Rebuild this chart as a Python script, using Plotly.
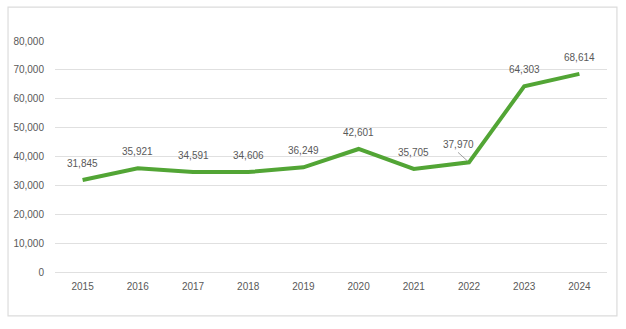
import plotly.graph_objects as go

years = ["2015", "2016", "2017", "2018", "2019", "2020", "2021", "2022", "2023", "2024"]
values = [31845, 35921, 34591, 34606, 36249, 42601, 35705, 37970, 64303, 68614]
labels = ["31,845", "35,921", "34,591", "34,606", "36,249", "42,601", "35,705", "37,970", "64,303", "68,614"]

FONT = dict(family="Liberation Sans, Arial", size=10, color="#595959")

fig = go.Figure()
fig.add_trace(go.Scatter(
    x=years, y=values, mode="lines",
    line=dict(color="#52a535", width=4), hoverinfo="skip",
))

for i, (v, t) in enumerate(zip(values, labels)):
    if years[i] == "2022":
        fig.add_annotation(
            x=i, y=v, text=t, showarrow=True, arrowhead=0,
            arrowwidth=0.8, arrowcolor="#8c8c8c", ax=-11, ay=-10, standoff=2,
            font=FONT, yanchor="bottom", xanchor="center",
        )
    else:
        fig.add_annotation(x=i, y=v, text=t, showarrow=False, yshift=9,
                           yanchor="bottom", xanchor="center", font=FONT)

fig.add_shape(type="rect", xref="paper", yref="paper",
              x0=-0.0851, x1=1.018, y0=-0.190, y1=1.147,
              line=dict(color="#dcdcdc", width=1.2), fillcolor="rgba(0,0,0,0)", layer="below")

fig.update_layout(
    width=626, height=329, margin=dict(l=55, r=19, t=41, b=57),
    paper_bgcolor="white", plot_bgcolor="white", showlegend=False,
    font=FONT,
    xaxis=dict(type="category", showgrid=False, showline=False,
               ticks="outside", tickcolor="white", ticklen=5,
               tickfont=dict(size=10, color="#595959"), range=[-0.5, 9.5]),
    yaxis=dict(range=[0, 80000], dtick=10000, tickformat=",", gridcolor="#e0e0e0",
               gridwidth=1, zeroline=True, zerolinecolor="#e0e0e0", zerolinewidth=1,
               ticks="outside", tickcolor="white", ticklen=8,
               tickfont=dict(size=10, color="#595959"), showline=False),
)

fig.write_html("out.html")
